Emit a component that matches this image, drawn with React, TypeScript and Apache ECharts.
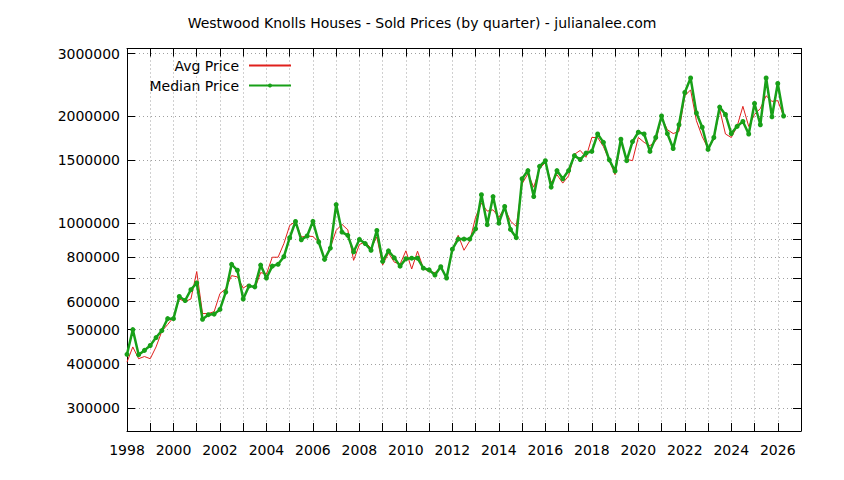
import { useEffect, useRef } from 'react';
import * as echarts from 'echarts';

const TITLE = 'Westwood Knolls Houses - Sold Prices (by quarter) - julianalee.com';
const START_YEAR = 1998;
const X_MIN = 1998;
const X_MAX = 2027;

// quarterly values, 1998 Q1 .. 2026 Q2
const avgPrice = [
  405000, 447000, 414000, 420000,
  414000, 447000, 495000, 517000,
  541000, 610000, 600000, 610000,
  729000, 555000, 555000, 562000,
  632000, 652000, 710000, 704000,
  655000, 671000, 652000, 724000,
  717000, 800000, 800000, 874000,
  983000, 1009000, 912000, 918000,
  915000, 883000, 792000, 852000,
  952000, 990000, 956000, 784000,
  869000, 883000, 848000, 912000,
  760000, 822000, 775000, 765000,
  834000, 741000, 832000, 745000,
  728000, 724000, 745000, 704000,
  837000, 922000, 837000, 890000,
  1037000, 1136000, 1079000, 1088000,
  1037000, 1102000, 1011000, 977000,
  1288000, 1375000, 1260000, 1420000,
  1480000, 1300000, 1367000, 1294000,
  1357000, 1560000, 1600000, 1530000,
  1740000, 1740000, 1640000, 1500000,
  1367000, 1700000, 1510000, 1497000,
  1740000, 1686000, 1650000, 1700000,
  1980000, 1830000, 1785000, 1810000,
  2280000, 2370000, 1940000, 1750000,
  1620000, 1720000, 2090000, 1780000,
  1740000, 1870000, 2130000, 1870000,
  2020000, 2100000, 2280000, 2200000,
  2210000, 2000000,
];

const medianPrice = [
  426000, 500000, 425000, 437000,
  451000, 475000, 497000, 537000,
  537000, 620000, 604000, 648000,
  677000, 535000, 551000, 553000,
  570000, 638000, 764000, 735000,
  610000, 664000, 660000, 760000,
  699000, 755000, 764000, 803000,
  908000, 1009000, 896000, 918000,
  1010000, 883000, 789000, 849000,
  1126000, 942000, 922000, 828000,
  898000, 874000, 837000, 952000,
  779000, 834000, 797000, 755000,
  792000, 795000, 795000, 745000,
  737000, 713000, 752000, 699000,
  843000, 900000, 900000, 900000,
  962000, 1200000, 988000, 1186000,
  998000, 1112000, 958000, 908000,
  1331000, 1404000, 1186000, 1443000,
  1497000, 1261000, 1404000, 1331000,
  1404000, 1547000, 1508000, 1572000,
  1590000, 1780000, 1686000, 1505000,
  1400000, 1720000, 1497000, 1694000,
  1800000, 1780000, 1590000, 1740000,
  2000000, 1785000, 1620000, 1890000,
  2330000, 2560000, 2040000, 1860000,
  1610000, 1740000, 2120000, 2020000,
  1785000, 1870000, 1930000, 1780000,
  2170000, 1890000, 2560000, 1990000,
  2470000, 2000000,
];

const yLabelValues = [300000, 400000, 500000, 600000, 800000, 1000000, 1500000, 2000000, 3000000];
const yTickValues = [300000, 400000, 500000, 600000, 700000, 800000, 900000, 1000000, 1500000, 2000000, 3000000];
const Y_MIN = 259000;
const Y_MAX = 3100000;

const FONT = 'DejaVu Sans';
const RED = '#e0201c';
const GREEN = '#18a018';

export default function App() {
  const ref = useRef<HTMLDivElement>(null);

  useEffect(() => {
    const el = ref.current;
    if (!el) return;
    const chart = echarts.init(el, null, { renderer: 'svg' });
    const quarterX = (i: number) => START_YEAR + i / 4;

    const xCommon = {
      type: 'value' as const,
      min: X_MIN,
      max: X_MAX,
      interval: 1,
      axisLine: { show: true, onZero: false, lineStyle: { color: '#000', width: 1 } },
      axisTick: { show: true, inside: true, length: 8, lineStyle: { color: '#000', width: 1 } },
    };
    const yCommon = {
      type: 'log' as const,
      logBase: 10,
      min: Y_MIN,
      max: Y_MAX,
      axisLine: { show: true, onZero: false, lineStyle: { color: '#000', width: 1 } },
      axisTick: { show: true, inside: true, length: 8, customValues: yTickValues, lineStyle: { color: '#000', width: 1 } },
    };

    chart.setOption({
      animation: false,
      backgroundColor: '#fff',
      title: {
        text: TITLE,
        left: 'center',
        top: 11,
        textStyle: { fontFamily: FONT, fontSize: 14, fontWeight: 'normal', color: '#000' },
      },
      legend: {
        orient: 'vertical',
        align: 'right',
        right: 547,
        top: 53.5,
        itemWidth: 42,
        itemHeight: 5,
        itemGap: 6,
        selectedMode: false,
        textStyle: { fontFamily: FONT, fontSize: 14, color: '#000', padding: [0, 5, 0, 0] },
        data: [
          { name: 'Avg Price', itemStyle: { opacity: 0 } },
          { name: 'Median Price' },
        ],
      },
      grid: {
        left: 127,
        top: 48.5,
        width: 674,
        height: 382.5,
        containLabel: false,
        outerBoundsMode: 'none',
      },
      xAxis: [
        {
          ...xCommon,
          position: 'bottom',
          axisLabel: {
            show: true,
            margin: 12,
            fontFamily: FONT,
            fontSize: 14,
            color: '#000',
            formatter: (v: number) => (Math.round(v) % 2 === 0 ? String(Math.round(v)) : ''),
          },
          splitLine: { show: true, lineStyle: { color: '#a0a0a0', width: 1, type: [1, 3] } },
        },
        {
          ...xCommon,
          position: 'top',
          axisLabel: { show: false },
          splitLine: { show: false },
        },
      ],
      yAxis: [
        {
          ...yCommon,
          position: 'left',
          axisLabel: {
            show: true,
            margin: 7,
            customValues: yLabelValues,
            fontFamily: FONT,
            fontSize: 14,
            color: '#000',
            formatter: (v: number) => String(Math.round(v)),
          },
          splitLine: { show: true, lineStyle: { color: '#a0a0a0', width: 1, type: [1, 3] } },
        },
        {
          ...yCommon,
          position: 'right',
          axisLabel: { show: false },
          splitLine: { show: false },
        },
      ],
      series: [
        {
          name: 'Avg Price',
          type: 'line',
          xAxisIndex: 0,
          yAxisIndex: 0,
          data: avgPrice.map((v, i) => [quarterX(i), v]),
          symbol: 'none',
          showSymbol: false,
          lineStyle: { color: RED, width: 1 },
          itemStyle: { color: RED },
          z: 2,
        },
        {
          name: 'Median Price',
          type: 'line',
          xAxisIndex: 0,
          yAxisIndex: 0,
          data: medianPrice.map((v, i) => [quarterX(i), v]),
          symbol: 'circle',
          symbolSize: 5,
          showSymbol: true,
          lineStyle: { color: GREEN, width: 2.5 },
          itemStyle: { color: GREEN },
          z: 3,
        },
      ],
    });

    return () => chart.dispose();
  }, []);

  return (
    <div
      ref={ref}
      style={{ position: 'fixed', left: 0, top: 0, width: 844, height: 480, background: '#fff' }}
    />
  );
}
